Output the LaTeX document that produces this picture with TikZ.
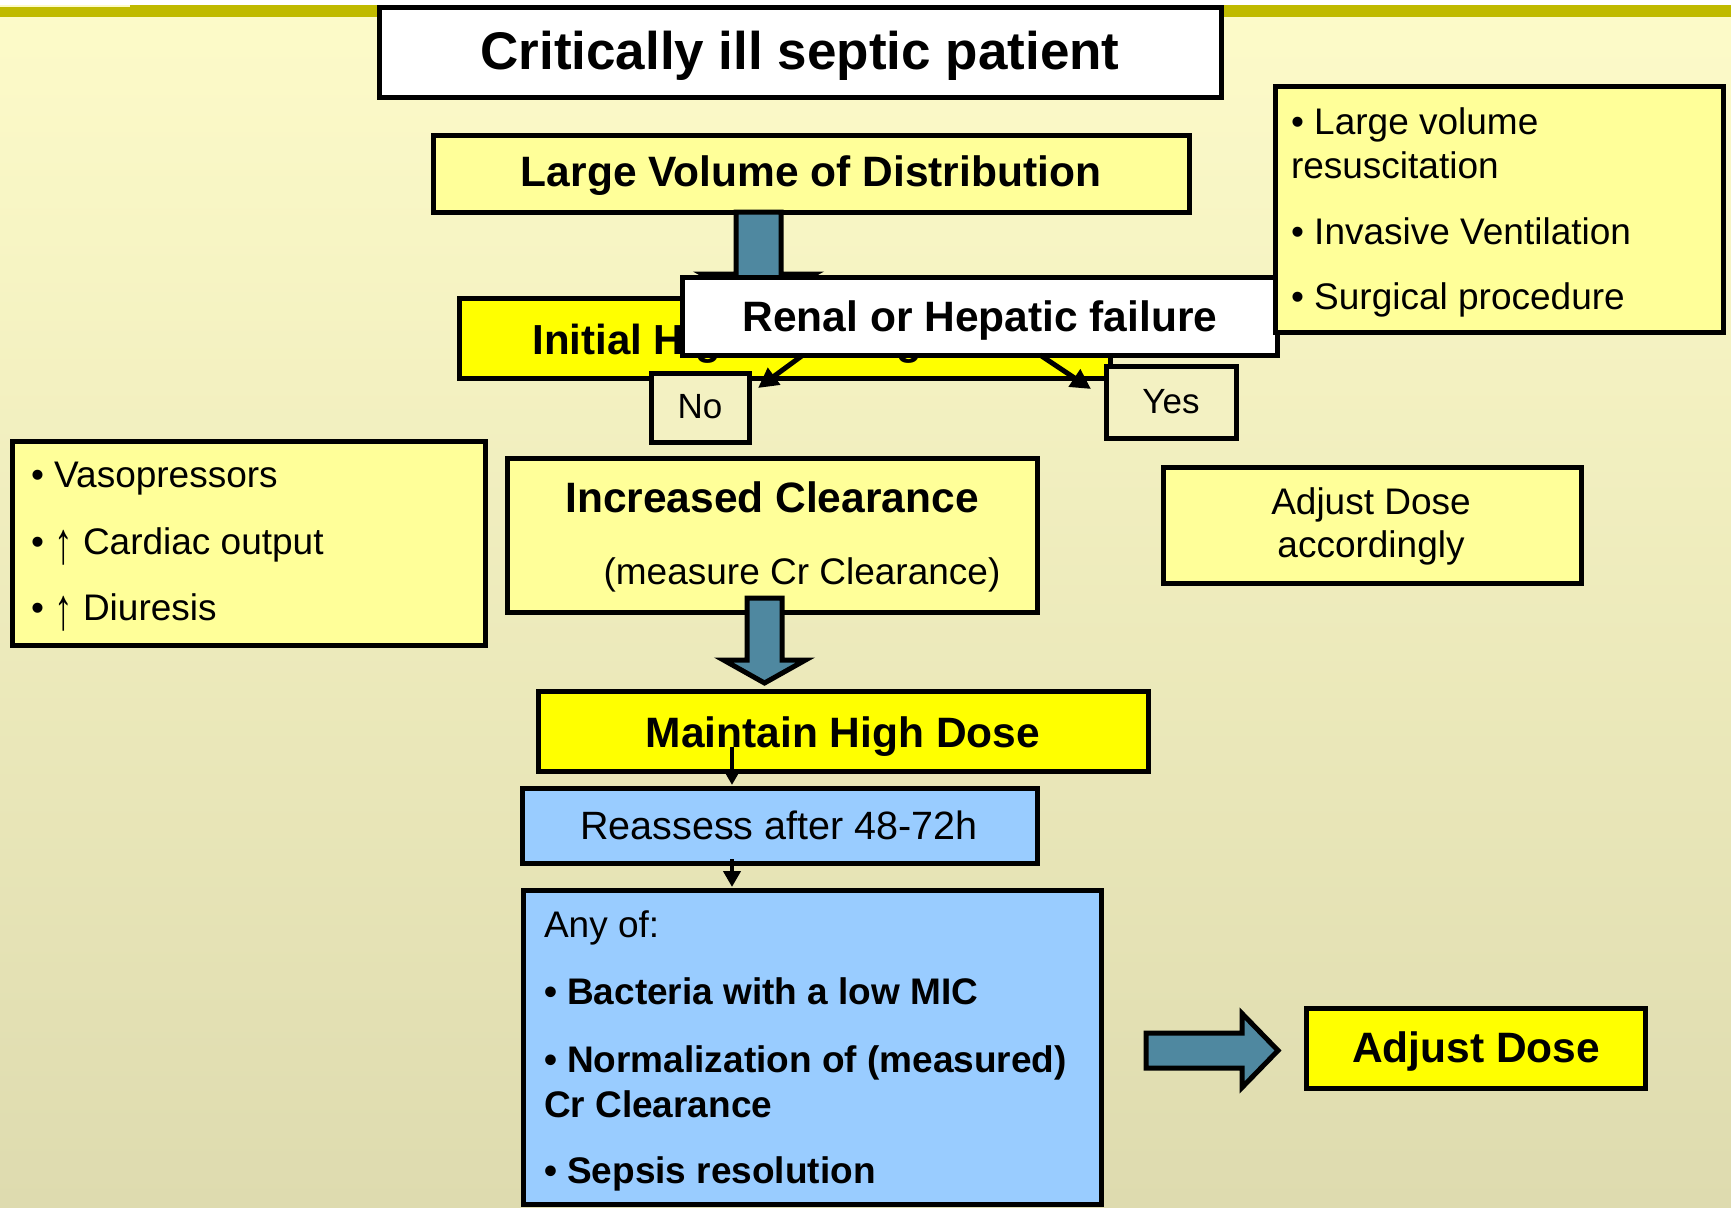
\documentclass[tikz,border=0pt]{standalone}
\usepackage{fontspec}
\setmainfont{Liberation Sans}
\usetikzlibrary{calc,arrows.meta}
\definecolor{bgtop}{RGB}{253,251,201}
\definecolor{bgbot}{RGB}{222,219,175}
\definecolor{bgmid}{RGB}{243,241,194}
\definecolor{barc}{RGB}{192,186,0}
\definecolor{lyel}{RGB}{255,255,153}
\definecolor{yel}{RGB}{255,255,0}
\definecolor{lblue}{RGB}{153,204,255}
\definecolor{steel}{RGB}{79,136,160}
\newcommand\fsz[1]{\fontsize{#1}{#1}\selectfont}
\newcommand\tallup{\raisebox{-9pt}{\scalebox{1}[1.6]{↑}}}
% fat vertical arrow: #1 start, #2 tip, #3 half shaft, #4 half head, #5 head length
\newcommand\fatdown[5]{\draw[fat] ($(#1)+(-#3,0)$) -- ($(#1)+(#3,0)$) -- ($(#2)+(#3,-#5)$) -- ($(#2)+(#4,-#5)$) -- (#2) -- ($(#2)+(-#4,-#5)$) -- ($(#2)+(-#3,-#5)$) -- cycle;}
\newcommand\fatright[5]{\draw[fat] ($(#1)+(0,-#3)$) -- ($(#2)+(-#5,-#3)$) -- ($(#2)+(-#5,-#4)$) -- (#2) -- ($(#2)+(-#5,#4)$) -- ($(#2)+(-#5,#3)$) -- ($(#1)+(0,#3)$) -- cycle;}
\begin{document}
\begin{tikzpicture}[x=1pt,y=-1pt,
  box/.style={draw=black,line width=5pt,inner sep=0pt,outer sep=0pt,rectangle},
  txt/.style={inner sep=0pt,outer sep=0pt,anchor=base},
  txtw/.style={inner sep=0pt,outer sep=0pt,anchor=base west},
  fat/.style={draw=black,fill=steel,line width=5pt,line join=miter},
  thinarr/.style={draw=black,line width=4pt,-{Triangle[length=16pt,width=17pt]}},
  noyes/.style={draw=black,line width=5pt,-{Triangle[length=20pt,width=20pt]}},
  ]
\useasboundingbox (0,0) rectangle (1731,1207);
\shade[top color=bgtop,bottom color=bgbot] (0,0) rectangle (1731,1207);
\fill[white] (0,0) rectangle (1731,5);
\fill[barc] (0,7) rectangle (130,17);
\fill[barc] (130,5) rectangle (1731,17);

% title
\node[box,fill=white,minimum width=842pt,minimum height=89pt] (title) at (800,52.5) {};
\node[txt,font={\bfseries\fsz{53}}] (titlet) at (800,70) {Critically ill septic patient};

% large volume
\node[box,fill=lyel,minimum width=756pt,minimum height=77pt] (lv) at (811,173.5) {};
\node[txt,font={\bfseries\fsz{42.5}}] (lvt) at (811,186) {Large Volume of Distribution};

% fat arrow 1
\coordinate (a1s) at (758.5,212);
\coordinate (a1e) at (758.5,305);
\fatdown{a1s}{a1e}{22.5}{56}{31}

% initial dose
\node[box,fill=yel,minimum width=651pt,minimum height=80pt] (init) at (784.5,338) {};
\node[txt,font={\bfseries\fsz{42}}] (initt) at (784.5,354) {Initial High Loading Dose};

% renal
\node[box,fill=white,minimum width=595pt,minimum height=78pt] (renal) at (979.5,316) {};
\node[txt,font={\bfseries\fsz{42.5}}] (renalt) at (980,331) {Renal or Hepatic failure};

% no / yes
\node[box,fill=bgmid,minimum width=98pt,minimum height=69pt] (no) at (700,407.5) {};
\node[txt,font=\fsz{35}] (not) at (700,418) {No};
\node[box,fill=bgmid,minimum width=130pt,minimum height=72pt] (yes) at (1171,402) {};
\node[txt,font=\fsz{35}] (yest) at (1171,413) {Yes};
\coordinate (tno) at (758,388);
\coordinate (tyes) at (1091,389);
\draw[noyes] ($(renal.south west)+(121,0)$) -- (tno);
\draw[noyes] ($(renal.south west)+(358,0)$) -- (tyes);

% right box
\node[box,fill=lyel,minimum width=448pt,minimum height=246pt] (rbox) at (1499,209) {};
\node[txtw,font=\fsz{37}] (r1) at (1291,134) {• Large volume};
\node[txtw,font=\fsz{37}] (r2) at (1291,178) {resuscitation};
\node[txtw,font=\fsz{37}] (r3) at (1291,244) {• Invasive Ventilation};
\node[txtw,font=\fsz{37}] (r4) at (1291,309) {• Surgical procedure};

% left box
\node[box,fill=lyel,minimum width=473pt,minimum height=204pt] (lbox) at (248.5,543) {};
\node[txtw,font=\fsz{37}] (l1) at (31,487) {• Vasopressors};
\node[txtw,font=\fsz{37}] (l2) at (31,554) {• \tallup\ Cardiac output};
\node[txtw,font=\fsz{37}] (l3) at (31,620) {• \tallup\ Diuresis};

% increased clearance
\node[box,fill=lyel,minimum width=530pt,minimum height=154pt] (inc) at (772,535) {};
\node[txt,font={\bfseries\fsz{42.5}}] (inct1) at (772,512) {Increased Clearance};
\node[txt,font=\fsz{37}] (inct2) at (802,584) {(measure Cr Clearance)};

% adjust accordingly
\node[box,fill=lyel,minimum width=418pt,minimum height=116pt] (adjacc) at (1372,525) {};
\node[txt,font=\fsz{37}] (adjacc1) at (1371,514) {Adjust Dose};
\node[txt,font=\fsz{37}] (adjacc2) at (1371,557) {accordingly};

% fat arrow 2
\coordinate (a2s) at (764.5,598);
\coordinate (a2e) at (764.5,683);
\fatdown{a2s}{a2e}{17.5}{41}{23}

% maintain
\node[box,fill=yel,minimum width=610pt,minimum height=80pt] (maint) at (843,731) {};
\node[txt,font={\bfseries\fsz{42.5}}] (maintt) at (843,747) {Maintain High Dose};

% reassess
\node[box,fill=lblue,minimum width=515pt,minimum height=75pt] (reass) at (779.5,825.5) {};
\node[txt,font=\fsz{39.5}] (reasst) at (779,839) {Reassess after 48-72h};
\coordinate (s1) at (732,747);
\draw[thinarr,shorten >=3pt] (s1) -- (s1 |- reass.north);

% any of
\node[box,fill=lblue,minimum width=578pt,minimum height=314pt] (anyof) at (812,1047) {};
\coordinate (s2) at (732,859);
\draw[thinarr,shorten >=3pt] (s2) -- (s2 |- anyof.north);
\node[txtw,font=\fsz{37}] (any0) at (544,937) {Any of:};
\node[txtw,font={\bfseries\fsz{37}}] (any1) at (544,1004) {• Bacteria with a low MIC};
\node[txtw,font={\bfseries\fsz{37}}] (any2) at (544,1072) {• Normalization of (measured)};
\node[txtw,font={\bfseries\fsz{37}}] (any3) at (544,1117) {Cr Clearance};
\node[txtw,font={\bfseries\fsz{37}}] (any4) at (544,1183) {• Sepsis resolution};

% fat arrow 3
\coordinate (a3s) at (1146,1050.5);
\coordinate (a3e) at (1278,1050.5);
\fatright{a3s}{a3e}{17.5}{37}{36}

% adjust dose
\node[box,fill=yel,minimum width=339pt,minimum height=80pt] (adj) at (1475.5,1048) {};
\node[txt,font={\bfseries\fsz{42.5}}] (adjt) at (1476,1062) {Adjust Dose};
\end{tikzpicture}
\end{document}
